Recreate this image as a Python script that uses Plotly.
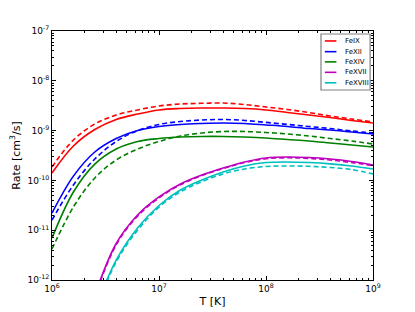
import plotly.graph_objects as go

# Temperature grid [K] (0.2 dex steps)
T_hi = [1.0e6, 1.585e6, 2.512e6, 3.981e6, 6.31e6, 1.0e7, 1.585e7, 2.512e7,
        3.981e7, 6.31e7, 1.0e8, 1.585e8, 2.512e8, 3.981e8, 6.31e8, 1.0e9]
T_lo = [2.512e6, 3.981e6, 6.31e6, 1.0e7, 1.585e7, 2.512e7,
        3.981e7, 6.31e7, 1.0e8, 1.585e8, 2.512e8, 3.981e8, 6.31e8, 1.0e9]

# Rates [cm^3/s]; solid and dashed curves
fe9_solid = [1.41e-10, 4.91e-10, 1.05e-9, 1.67e-9, 2.15e-9, 2.60e-9, 2.78e-9, 2.84e-9,
             2.84e-9, 2.78e-9, 2.60e-9, 2.31e-9, 2.06e-9, 1.83e-9, 1.60e-9, 1.42e-9]
fe9_dash = [1.86e-10, 6.47e-10, 1.36e-9, 2.06e-9, 2.60e-9, 3.12e-9, 3.42e-9, 3.53e-9,
            3.58e-9, 3.34e-9, 2.98e-9, 2.65e-9, 2.31e-9, 1.96e-9, 1.71e-9, 1.49e-9]
fe12_solid = [2.21e-11, 1.22e-10, 3.72e-10, 6.93e-10, 1.00e-9, 1.21e-9, 1.33e-9, 1.39e-9,
              1.42e-9, 1.39e-9, 1.30e-9, 1.21e-9, 1.10e-9, 1.03e-9, 9.37e-10, 8.55e-10]
fe12_dash = [1.60e-11, 8.09e-11, 2.69e-10, 6.04e-10, 1.00e-9, 1.33e-9, 1.52e-9, 1.63e-9,
             1.67e-9, 1.60e-9, 1.46e-9, 1.33e-9, 1.21e-9, 1.10e-9, 9.82e-10, 8.95e-10]
fe14_solid = [6.97e-12, 5.85e-11, 2.13e-10, 4.27e-10, 6.04e-10, 6.93e-10, 7.43e-10, 7.62e-10,
              7.62e-10, 7.43e-10, 7.10e-10, 6.62e-10, 6.18e-10, 5.64e-10, 5.14e-10, 4.69e-10]
fe14_dash = [4.19e-12, 2.92e-11, 1.12e-10, 2.57e-10, 4.27e-10, 6.04e-10, 7.80e-10, 8.95e-10,
             9.59e-10, 9.59e-10, 9.16e-10, 8.55e-10, 7.80e-10, 6.93e-10, 6.18e-10, 5.38e-10]
fe17_solid = [5.0e-13, 5.41e-12, 2.02e-11, 4.65e-11, 8.47e-11, 1.28e-10, 1.77e-10, 2.34e-10,
              2.82e-10, 2.95e-10, 2.88e-10, 2.69e-10, 2.40e-10, 2.04e-10]
fe17_dash = [4.7e-13, 5.1e-12, 1.92e-11, 4.45e-11, 8.2e-11, 1.25e-10, 1.73e-10, 2.28e-10,
             2.72e-10, 2.84e-10, 2.76e-10, 2.57e-10, 2.28e-10, 1.97e-10]
fe18_solid = [2.5e-13, 2.52e-12, 1.11e-11, 3.13e-11, 6.41e-11, 1.02e-10, 1.48e-10, 1.95e-10,
              2.28e-10, 2.34e-10, 2.28e-10, 2.15e-10, 1.95e-10, 1.69e-10]
fe18_dash = [2.3e-13, 2.3e-12, 1.0e-11, 2.9e-11, 5.9e-11, 9.4e-11, 1.35e-10, 1.70e-10,
             1.90e-10, 1.95e-10, 1.92e-10, 1.82e-10, 1.65e-10, 1.35e-10]

names = ["FeIX", "FeXII", "FeXIV", "FeXVII", "FeXVIII"]
colors = ["#ff0000", "#0000ff", "#008000", "#bf00bf", "#00bfbf"]
series = [(T_hi, fe9_solid, fe9_dash), (T_hi, fe12_solid, fe12_dash),
          (T_hi, fe14_solid, fe14_dash), (T_lo, fe17_solid, fe17_dash),
          (T_lo, fe18_solid, fe18_dash)]

x_ticks = [1e6, 1e7, 1e8, 1e9]
x_ticktext = ["10<sup>6</sup>", "10<sup>7</sup>", "10<sup>8</sup>", "10<sup>9</sup>"]
y_ticks = [1e-12, 1e-11, 1e-10, 1e-9, 1e-8, 1e-7]
y_ticktext = ["10<sup>-12</sup>", "10<sup>-11</sup>", "10<sup>-10</sup>",
              "10<sup>-9</sup>", "10<sup>-8</sup>", "10<sup>-7</sup>"]

fig = go.Figure()
for name, col, (T, s, d) in zip(names, colors, series):
    fig.add_trace(go.Scatter(x=T, y=s, mode="lines", name=name, showlegend=False,
                             line=dict(color=col, width=1.6, shape="spline", smoothing=1.0)))
for name, col, (T, s, d) in zip(names, colors, series):
    fig.add_trace(go.Scatter(x=T, y=d, mode="lines", name=name + " dashed", showlegend=False,
                             line=dict(color=col, width=1.6, dash="5px,3px", shape="spline", smoothing=1.0)))

# Compact matplotlib-style legend (box, line samples and labels in paper coordinates)
leg_x0, leg_x1, leg_y0, leg_y1 = 0.838, 0.991, 0.763, 0.988
row_y = [0.960, 0.917, 0.876, 0.834, 0.792]
fig.add_shape(type="rect", xref="paper", yref="paper", x0=leg_x0, x1=leg_x1, y0=leg_y0, y1=leg_y1,
              line=dict(color="#808080", width=1.2), fillcolor="white", layer="above")
for name, col, ry in zip(names, colors, row_y):
    fig.add_shape(type="line", xref="paper", yref="paper", x0=0.850, x1=0.886, y0=ry, y1=ry,
                  line=dict(color=col, width=1.6), layer="above")
    fig.add_annotation(xref="paper", yref="paper", x=0.905, y=ry, text=name, showarrow=False,
                       xanchor="left", yanchor="middle", font=dict(size=7, color="black"))

minor_x = [m * 10 ** e for e in range(6, 9) for m in range(2, 10)]
minor_y = [m * 10.0 ** e for e in range(-12, -7) for m in range(2, 10)]

font = "DejaVu Sans, Liberation Sans, sans-serif"
fig.update_layout(
    width=407, height=304,
    margin=dict(l=44, r=42, t=23, b=32, autoexpand=False),
    paper_bgcolor="white", plot_bgcolor="white",
    font=dict(family=font, color="black", size=9),
    showlegend=False,
)
fig.update_xaxes(type="log", range=[6, 9], tickvals=x_ticks, ticktext=x_ticktext,
                 ticks="inside", ticklen=4, tickcolor="black", showline=True, linecolor="black",
                 linewidth=1, mirror="allticks", showgrid=False, zeroline=False, automargin=False,
                 tickfont=dict(size=9),
                 minor=dict(tickvals=minor_x, ticks="inside", ticklen=2, tickcolor="black", showgrid=False),
                 title=dict(text="T [K]", font=dict(size=11), standoff=4))
fig.update_yaxes(type="log", range=[-12, -7], tickvals=y_ticks, ticktext=y_ticktext,
                 ticks="inside", ticklen=4, tickcolor="black", showline=True, linecolor="black",
                 linewidth=1, mirror="allticks", showgrid=False, zeroline=False, automargin=False,
                 tickfont=dict(size=9),
                 minor=dict(tickvals=minor_y, ticks="inside", ticklen=2, tickcolor="black", showgrid=False),
                 title=dict(text="Rate [cm<sup>3</sup>/s]", font=dict(size=11), standoff=9))

fig.write_html("out.html")
